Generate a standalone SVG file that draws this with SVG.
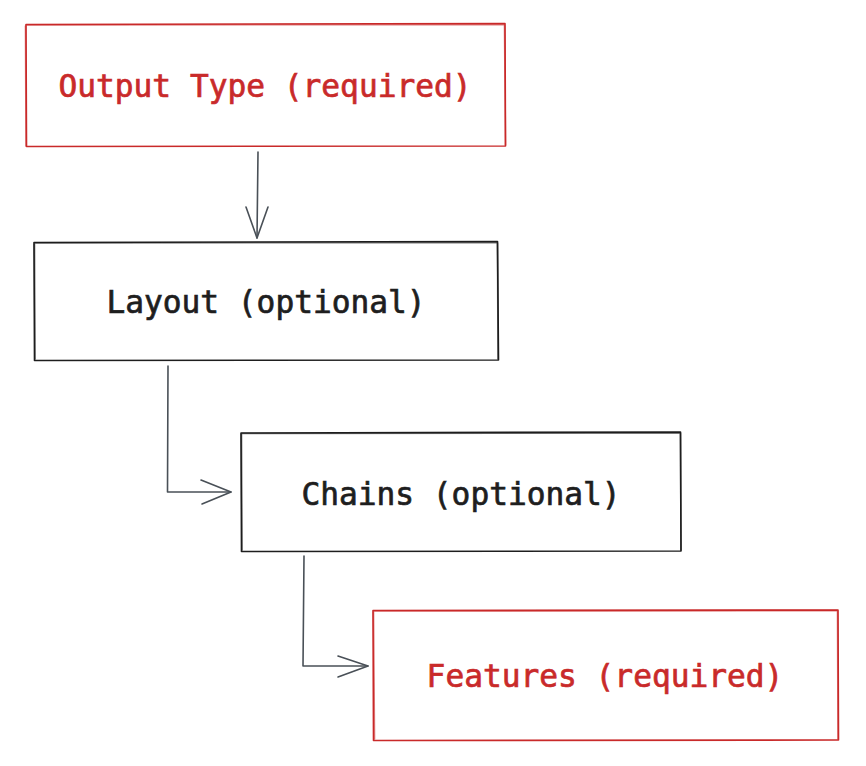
<svg xmlns="http://www.w3.org/2000/svg" width="866" height="766" viewBox="0 0 866 766">
<style>
.box{fill:none;stroke-width:1.6;stroke-linecap:round;stroke-linejoin:round}
.red{stroke:#c92a2a}
.blk{stroke:#1e1e1e}
.lbl{font-family:"DejaVu Sans Mono","Liberation Mono",monospace;font-size:31.2px;text-anchor:middle;stroke-width:0.7px}
.rt{fill:#c92a2a;stroke:#c92a2a}
.bt{fill:#1e1e1e;stroke:#1e1e1e}
.conn{fill:none;stroke:#495057;stroke-width:1.6;stroke-linecap:round;stroke-linejoin:round}
</style>
<rect width="866" height="766" fill="#ffffff"/>
<g id="output-type">
<path class="box red" d="M26 24.5 L505 23.5 L505.5 146 L26.5 146.5 Z"/>
<path class="box red" d="M27 25 L504 24.5 M25.5 26 L26 146 M504.5 25 L505.5 145" opacity="0.6"/>
<text class="lbl rt" x="265" y="97">Output Type (required)</text>
</g>
<g id="layout">
<path class="box blk" d="M34 242.5 L497.5 241.5 L498.5 360 L34.5 360.5 Z"/>
<path class="box blk" d="M35 243 L497 242.5 M34.5 244 L35 359 M497.5 243 L498 359" opacity="0.6"/>
<text class="lbl bt" x="266" y="313">Layout (optional)</text>
</g>
<g id="chains">
<path class="box blk" d="M241 433 L680.5 432 L681 551 L241.5 551.5 Z"/>
<path class="box blk" d="M242 433.5 L680 433 M241.5 434 L242 550 M680.5 433 L681 550" opacity="0.6"/>
<text class="lbl bt" x="461" y="505">Chains (optional)</text>
</g>
<g id="features">
<path class="box red" d="M373 610.5 L838 610 L838.5 740 L373.5 740.5 Z"/>
<path class="box red" d="M374 611 L837 610.5 M373.5 612 L374.5 739 M837.5 611 L838 739" opacity="0.6"/>
<text class="lbl rt" x="605" y="687">Features (required)</text>
</g>
<g id="connectors">
<path class="conn" d="M258 152 L257 238"/>
<path class="conn" d="M246 207 L257 238 L268 207"/>
<path class="conn" d="M168 366 L167.5 492 L231 492"/>
<path class="conn" d="M201 480 L231 492 L202 504"/>
<path class="conn" d="M304 556 L303 666 L368 666"/>
<path class="conn" d="M338 656 L368 666 L338 677"/>
</g>
</svg>
